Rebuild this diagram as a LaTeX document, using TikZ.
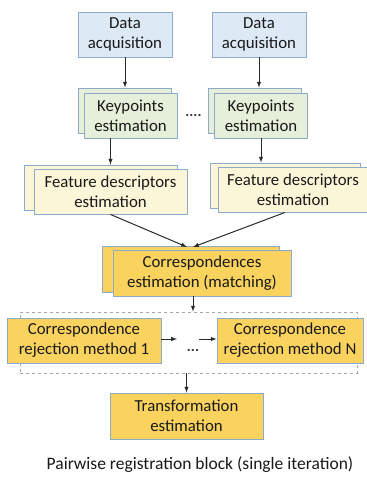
\documentclass[tikz,border=0pt]{standalone}
\usepackage{fontspec}
\setmainfont{Carlito}
\usepackage{xcolor}
\usepackage{tikz}

\definecolor{boxline}{HTML}{8EAACB}
\definecolor{acqfill}{HTML}{DDEAF6}
\definecolor{kpfill}{HTML}{E6EFDA}
\definecolor{featfill}{HTML}{FCF6D8}
\definecolor{corrfill}{HTML}{FAD25E}
\definecolor{arrowline}{HTML}{2A2A2A}

\begin{document}
\begin{tikzpicture}[x=1pt, y=-1pt,
    blk/.style={draw=boxline, line width=0.9pt, align=center, inner sep=0pt,
      text=black!90, font=\fontsize{16.8}{20}\selectfont, minimum height=45pt},
    acq/.style={blk, fill=acqfill, minimum width=94pt},
    kp/.style={blk, fill=kpfill, minimum width=93pt},
    feat/.style={blk, fill=featfill},
    corr/.style={blk, fill=corrfill},
    flow/.style={->, >=latex, draw=arrowline, line width=1pt}]
    \useasboundingbox (0,0) rectangle (367,477);

    \node[acq] (acq1) at (125, 34.5) {Data\\acquisition};
    \node[acq] (acq2) at (259, 34.5) {Data\\acquisition};

    \node[kp] (kp1b) at (124.5, 110.5) {};
    \node[kp] (kp1) at (130.5, 115.5) {Keypoints\\estimation};
    \node[kp] (kp2b) at (255, 110.5) {};
    \node[kp] (kp2) at (261, 115.5) {Keypoints\\estimation};
    \node[font=\bfseries\fontsize{15}{15}\selectfont, text=black!80, inner sep=0pt] (kpdots) at (193.5, 115) {....};

    \node[feat, minimum width=153pt] (fd1b) at (100.5, 187.5) {};
    \node[feat, minimum width=153pt] (fd1) at (110.5, 191.5) {Feature descriptors\\estimation};
    \node[feat, minimum width=150pt] (fd2b) at (285, 185.5) {};
    \node[feat, minimum width=150pt] (fd2) at (293, 189.5) {Feature descriptors\\estimation};

    \node[corr, minimum width=177pt, minimum height=46pt] (corrb) at (190.5, 269) {};
    \node[corr, minimum width=178pt, minimum height=46pt] (corr) at (202, 273) {Correspondences\\estimation (matching)};

    \node[draw=gray!70, dashed, line width=0.9pt, minimum width=337pt, minimum height=61pt] (rejbox) at (188.5, 342.5) {};
    \node[corr, minimum width=154pt] (rej1) at (84, 340.5) {Correspondence\\rejection method 1};
    \node[corr, minimum width=146pt] (rejN) at (290, 340.5) {Correspondence\\rejection method N};
    \node[font=\bfseries\fontsize{15}{15}\selectfont, text=black!80, inner sep=0pt] (rejdots) at (193, 350) {...};
    \coordinate (rejmid1) at (177, 339);
    \coordinate (rejmid2) at (199, 339);

    \node[corr, minimum width=153pt, minimum height=46pt] (trans) at (186.5, 416) {Transformation\\estimation};

    \node[font=\fontsize{17.5}{20}\selectfont, text=black!90] (caption) at (200, 465) {Pairwise registration block (single iteration)};

    \draw[flow] (acq1) -- (acq1 |- kp1b.north);
    \draw[flow] (acq2) -- (acq2 |- kp2b.north);
    \draw[flow] (kp1.south -| fd1) -- (fd1b.north -| fd1);
    \draw[flow] (kp2.south) -- (kp2 |- fd2b.north);
    \draw[flow] (fd1.south) -- (187, 247);
    \draw[flow] (fd2.south -| 285, 0) -- (193, 247);
    \draw[flow] (corr.south -| 193, 0) -- (rejbox.north -| 193, 0);
    \draw[flow] (rej1.east |- rejmid1) -- (rejmid1);
    \draw[flow] (rejmid2) -- (rejN.west |- rejmid2);
    \draw[flow] (rejbox.south -| trans) -- (trans.north);
\end{tikzpicture}
\end{document}
